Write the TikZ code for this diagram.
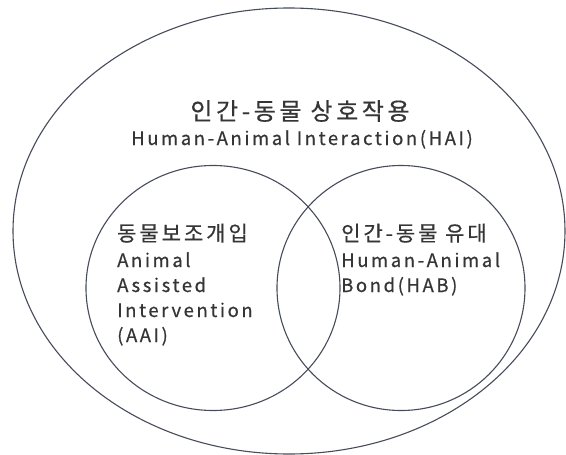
\documentclass[tikz,border=0pt]{standalone}
\usepackage{fontspec}
\setmainfont{Noto Sans CJK KR}
\definecolor{linec}{HTML}{474C5A}
\definecolor{textc}{HTML}{353535}
\begin{document}
\begin{tikzpicture}[x=1pt,y=-1pt,
  ring/.style={draw=linec,line width=1.1pt},
  kortitle/.style={text=textc,inner sep=0pt,font=\fontsize{24}{27}\selectfont\addfontfeature{LetterSpace=15,FakeBold=0.4}},
  kor/.style={text=textc,inner sep=0pt,font=\fontsize{21}{24}\selectfont\addfontfeature{LetterSpace=14,FakeBold=0.6}},
  eng/.style={text=textc,inner sep=0pt,font=\fontsize{18.5}{21}\selectfont\addfontfeature{LetterSpace=14,FakeBold=0.5}}]
\useasboundingbox (0,0) rectangle (566,455);
\fill[white] (0,0) rectangle (566,455);
\draw[ring] (289,231) ellipse [x radius=276,y radius=223];
\draw[ring] (213,288) ellipse [x radius=127,y radius=122.5];
\draw[ring] (401,288) ellipse [x radius=124,y radius=122.5];
\node[kortitle,anchor=base] (hai) at (300,120) {인간-동물 상호작용};
\node[eng,anchor=base] (haie) at (302,145) {Human-Animal Interaction(HAI)};
\node[kor,anchor=base west] (aai) at (117,241) {동물보조개입};
\node[eng,anchor=base west] (aai1) at (117,267) {Animal};
\node[eng,anchor=base west] (aai2) at (117,292) {Assisted};
\node[eng,anchor=base west] (aai3) at (117,317) {Intervention};
\node[eng,anchor=base west] (aai4) at (117,342) {(AAI)};
\node[kor,anchor=base west] (hab) at (341,241) {인간-동물 유대};
\node[eng,anchor=base west] (hab1) at (341,267) {Human-Animal};
\node[eng,anchor=base west] (hab2) at (341,292) {Bond(HAB)};
\end{tikzpicture}
\end{document}
